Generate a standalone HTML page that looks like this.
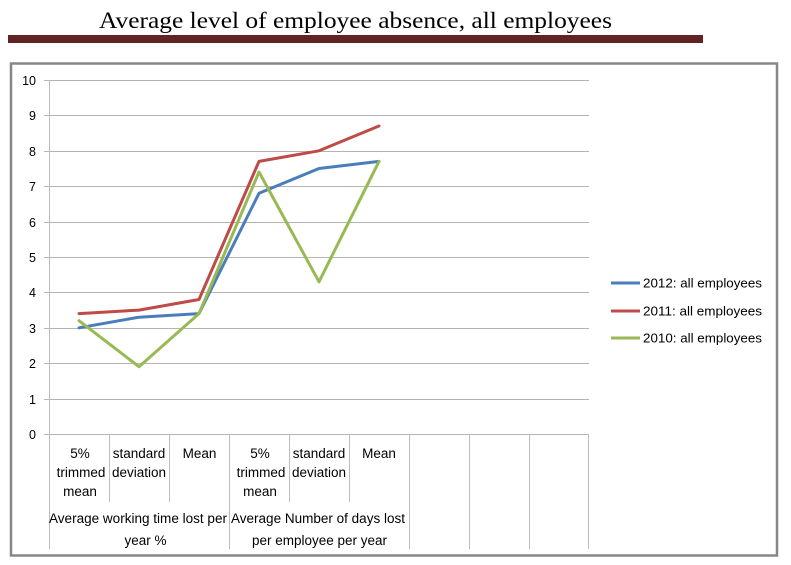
<!DOCTYPE html>
<html><head><meta charset="utf-8">
<style>
html,body{margin:0;padding:0;background:#fff;}
svg{display:block;}
text{font-family:"Liberation Sans",sans-serif;fill:#000;}
</style></head>
<body>
<svg width="791" height="565" viewBox="0 0 791 565" xmlns="http://www.w3.org/2000/svg">
<rect x="0" y="0" width="791" height="565" fill="#fff"/>
<!-- title -->
<text x="99" y="28" font-size="23" textLength="513" lengthAdjust="spacingAndGlyphs" style="font-family:'Liberation Serif',serif">Average level of employee absence, all employees</text>
<rect x="8" y="35" width="695" height="8" fill="#622423"/>
<!-- chart box -->
<rect x="11" y="63.5" width="766" height="492" fill="#fff" stroke="#878787" stroke-width="2.5"/>
<!-- gridlines -->
<g stroke="#b4b4b4" stroke-width="1">
<line x1="44" y1="80.5" x2="589" y2="80.5"/>
<line x1="44" y1="115.5" x2="589" y2="115.5"/>
<line x1="44" y1="151.5" x2="589" y2="151.5"/>
<line x1="44" y1="186.5" x2="589" y2="186.5"/>
<line x1="44" y1="222.5" x2="589" y2="222.5"/>
<line x1="44" y1="257.5" x2="589" y2="257.5"/>
<line x1="44" y1="292.5" x2="589" y2="292.5"/>
<line x1="44" y1="328.5" x2="589" y2="328.5"/>
<line x1="44" y1="363.5" x2="589" y2="363.5"/>
<line x1="44" y1="399.5" x2="589" y2="399.5"/>
<line x1="44" y1="434.5" x2="589" y2="434.5"/>
</g>
<!-- axes and category separators -->
<g stroke="#bdbdbd" stroke-width="1">
<line x1="49.5" y1="80" x2="49.5" y2="549"/>
<line x1="109.5" y1="434" x2="109.5" y2="502"/>
<line x1="169.5" y1="434" x2="169.5" y2="502"/>
<line x1="229.5" y1="434" x2="229.5" y2="549"/>
<line x1="289.5" y1="434" x2="289.5" y2="502"/>
<line x1="349.5" y1="434" x2="349.5" y2="502"/>
<line x1="409.5" y1="434" x2="409.5" y2="549"/>
<line x1="469.5" y1="434" x2="469.5" y2="549"/>
<line x1="529.5" y1="434" x2="529.5" y2="549"/>
<line x1="588.5" y1="434" x2="588.5" y2="549"/>
</g>
<!-- y labels -->
<g font-size="12.5" text-anchor="end">
<text x="36" y="85">10</text>
<text x="36" y="120">9</text>
<text x="36" y="156">8</text>
<text x="36" y="191">7</text>
<text x="36" y="227">6</text>
<text x="36" y="262">5</text>
<text x="36" y="297">4</text>
<text x="36" y="333">3</text>
<text x="36" y="368">2</text>
<text x="36" y="404">1</text>
<text x="36" y="439">0</text>
</g>
<!-- category labels -->
<g font-size="13.5" text-anchor="middle">
<text x="80" y="458">5%</text>
<text x="81" y="477">trimmed</text>
<text x="80" y="496">mean</text>
<text x="139" y="458">standard</text>
<text x="139" y="477">deviation</text>
<text x="199.5" y="458">Mean</text>
<text x="260" y="458">5%</text>
<text x="261" y="477">trimmed</text>
<text x="260" y="496">mean</text>
<text x="319" y="458">standard</text>
<text x="319" y="477">deviation</text>
<text x="379" y="458">Mean</text>
<text x="138" y="523" textLength="178" lengthAdjust="spacingAndGlyphs">Average working time lost per</text>
<text x="145.5" y="545">year %</text>
<text x="318" y="523" textLength="174" lengthAdjust="spacingAndGlyphs">Average Number of days lost</text>
<text x="319.5" y="545" textLength="135" lengthAdjust="spacingAndGlyphs">per employee per year</text>
</g>
<!-- series -->
<g fill="none" stroke-width="3" stroke-linejoin="round" stroke-linecap="round">
<polyline stroke="#4a7ebb" points="79,327.8 139,317.2 199,313.6 259,193.3 319,168.5 379,161.4"/>
<polyline stroke="#be4b48" points="79,313.6 139,310.1 199,299.5 259,161.4 319,150.8 379,126.0"/>
<polyline stroke="#98b954" points="79,320.7 139,366.7 199,313.6 259,172.0 319,281.8 379,161.4"/>
</g>
<!-- legend -->
<g stroke-width="3">
<line x1="611" y1="283" x2="640" y2="283" stroke="#4a7ebb"/>
<line x1="611" y1="311" x2="640" y2="311" stroke="#be4b48"/>
<line x1="611" y1="338" x2="640" y2="338" stroke="#98b954"/>
</g>
<g font-size="13">
<text x="643" y="287.5" textLength="119" lengthAdjust="spacingAndGlyphs">2012: all employees</text>
<text x="643" y="315.5" textLength="119" lengthAdjust="spacingAndGlyphs">2011: all employees</text>
<text x="643" y="342.5" textLength="119" lengthAdjust="spacingAndGlyphs">2010: all employees</text>
</g>
</svg>
</body></html>
